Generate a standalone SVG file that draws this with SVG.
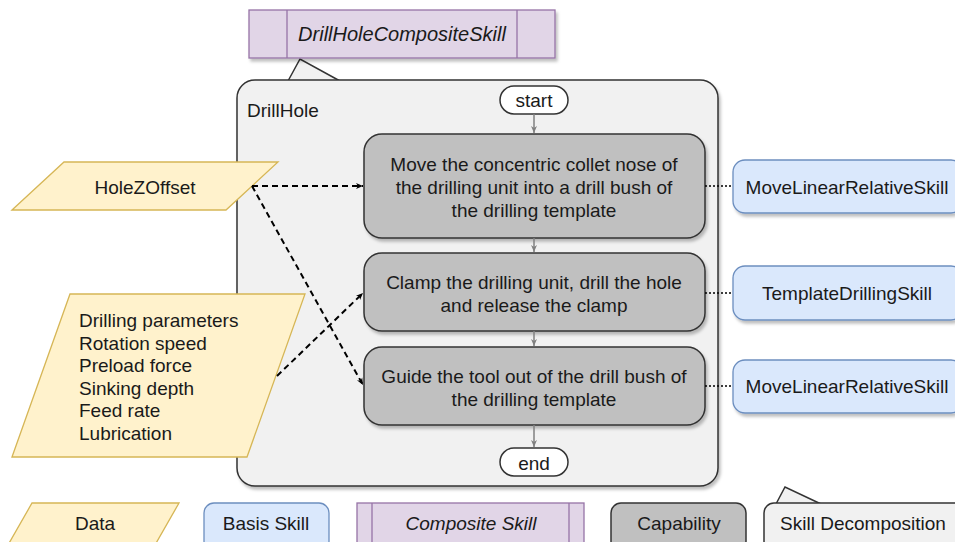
<svg xmlns="http://www.w3.org/2000/svg" width="955" height="542" viewBox="0 0 955 542">
<defs>
<filter id="sh" x="-10%" y="-10%" width="120%" height="130%">
<feDropShadow dx="2" dy="3" stdDeviation="1.5" flood-color="#000" flood-opacity="0.25"/>
</filter>
<marker id="ah" markerWidth="8" markerHeight="8" refX="7" refY="4" orient="auto" markerUnits="userSpaceOnUse">
<path d="M0,1 L7,4 L0,7 L2,4 Z" fill="#000"/>
</marker>
<marker id="ag" markerWidth="8" markerHeight="8" refX="7" refY="4" orient="auto" markerUnits="userSpaceOnUse">
<path d="M0,1 L7,4 L0,7 L2,4 Z" fill="#808080"/>
</marker>
</defs>
<style>
text{font-family:"Liberation Sans",Arial,sans-serif;font-size:19px;fill:#1a1a1a}
.c{text-anchor:middle}
.it{font-style:italic}
.t{font-size:20px}
.data{fill:#fff2cc;stroke:#d6b656;stroke-width:1.3}
.basis{fill:#dae8fc;stroke:#6c8ebf;stroke-width:1.3}
.comp{fill:#e1d5e7;stroke:#9673a6;stroke-width:1.3}
.cap{fill:#c0c0c0;stroke:#333;stroke-width:1.5}
.dec{fill:#f1f1f1;stroke:#333;stroke-width:1.5}
.term{fill:#fff;stroke:#333;stroke-width:1.5}
.flow{stroke:#808080;stroke-width:1.5;fill:none;marker-end:url(#ag)}
.dash{stroke:#000;stroke-width:2;stroke-dasharray:6,4;fill:none;marker-end:url(#ah)}
.dot{stroke:#000;stroke-width:1.5;stroke-dasharray:2,2;fill:none}
</style>
<rect width="955" height="542" fill="#fff"/>

<g id="composite">
<polygon class="dec" points="288,81 300,59 340,81"/>
<rect class="comp" x="249" y="10" width="306" height="48" filter="url(#sh)"/>
<line x1="287" y1="10" x2="287" y2="58" stroke="#9673a6" stroke-width="1.3"/>
<line x1="517" y1="10" x2="517" y2="58" stroke="#9673a6" stroke-width="1.3"/>
<text class="c it t" x="402" y="41">DrillHoleCompositeSkill</text>
</g>

<g id="drillhole">
<rect class="dec" x="237" y="80" width="481" height="406" rx="18" filter="url(#sh)"/>
<text x="247" y="117">DrillHole</text>
</g>

<g id="start">
<rect class="term" x="500" y="86" width="68" height="28" rx="14"/>
<text class="c" x="534" y="107">start</text>
</g>

<g id="cap1">
<rect class="cap" x="364" y="134" width="341" height="104" rx="18" filter="url(#sh)"/>
<text class="c" x="534" y="171">Move the concentric collet nose of</text>
<text class="c" x="534" y="194">the drilling unit into a drill bush of</text>
<text class="c" x="534" y="217">the drilling template</text>
</g>

<g id="cap2">
<rect class="cap" x="364" y="253" width="341" height="78" rx="18" filter="url(#sh)"/>
<text class="c" x="534" y="289">Clamp the drilling unit, drill the hole</text>
<text class="c" x="534" y="312">and release the clamp</text>
</g>

<g id="cap3">
<rect class="cap" x="364" y="347" width="341" height="78" rx="18" filter="url(#sh)"/>
<text class="c" x="534" y="383">Guide the tool out of the drill bush of</text>
<text class="c" x="534" y="406">the drilling template</text>
</g>

<g id="end">
<rect class="term" x="500" y="448" width="68" height="28" rx="14"/>
<text class="c" x="534" y="470">end</text>
</g>

<g id="basis1">
<rect class="basis" x="733" y="160" width="230" height="53" rx="12" filter="url(#sh)"/>
<text class="c" x="847" y="194">MoveLinearRelativeSkill</text>
</g>
<g id="basis2">
<rect class="basis" x="733" y="266" width="230" height="54" rx="12" filter="url(#sh)"/>
<text class="c" x="847" y="300">TemplateDrillingSkill</text>
</g>
<g id="basis3">
<rect class="basis" x="733" y="360" width="230" height="53" rx="12" filter="url(#sh)"/>
<text class="c" x="847" y="393">MoveLinearRelativeSkill</text>
</g>

<g id="holezoffset">
<polygon class="data" points="12,210 64,162 278,162 226,210"/>
<text class="c" x="145" y="194">HoleZOffset</text>
</g>

<g id="drillparams">
<polygon class="data" points="12,457 70,294 305,294 247,457"/>
<text x="79" y="327">Drilling parameters</text>
<text x="79" y="349.6">Rotation speed</text>
<text x="79" y="372.2">Preload force</text>
<text x="79" y="394.8">Sinking depth</text>
<text x="79" y="417.4">Feed rate</text>
<text x="79" y="440">Lubrication</text>
</g>

<g id="connectors">
<line class="flow" x1="534" y1="114" x2="534" y2="133"/>
<line class="flow" x1="534" y1="238" x2="534" y2="252"/>
<line class="flow" x1="534" y1="331" x2="534" y2="346"/>
<line class="flow" x1="534" y1="425" x2="534" y2="447"/>
<line class="dash" x1="252" y1="186" x2="363" y2="186"/>
<line class="dash" x1="252" y1="186" x2="363" y2="385"/>
<line class="dash" x1="277" y1="376" x2="363" y2="293"/>
<line class="dot" x1="705" y1="186" x2="733" y2="186"/>
<line class="dot" x1="705" y1="293" x2="733" y2="293"/>
<line class="dot" x1="705" y1="386" x2="733" y2="386"/>
</g>

<g id="legend-data">
<polygon class="data" points="8,545 32,503 179,503 155,545"/>
<text class="c" x="95" y="530">Data</text>
</g>
<g id="legend-basis">
<rect class="basis" x="204" y="503" width="125" height="48" rx="10"/>
<text class="c" x="266" y="530">Basis Skill</text>
</g>
<g id="legend-composite">
<rect class="comp" x="357" y="503" width="227" height="48"/>
<line x1="372" y1="503" x2="372" y2="545" stroke="#9673a6" stroke-width="1.3"/>
<line x1="569" y1="503" x2="569" y2="545" stroke="#9673a6" stroke-width="1.3"/>
<text class="c it" x="471" y="530">Composite Skill</text>
</g>
<g id="legend-capability">
<rect class="cap" x="611" y="503" width="135" height="48" rx="10"/>
<text class="c" x="679" y="530">Capability</text>
</g>
<g id="legend-decomposition">
<polygon class="dec" points="776,504 785,487 821,504"/>
<rect class="dec" x="764" y="503" width="200" height="48" rx="10"/>
<text class="c" x="863" y="530">Skill Decomposition</text>
</g>
</svg>
